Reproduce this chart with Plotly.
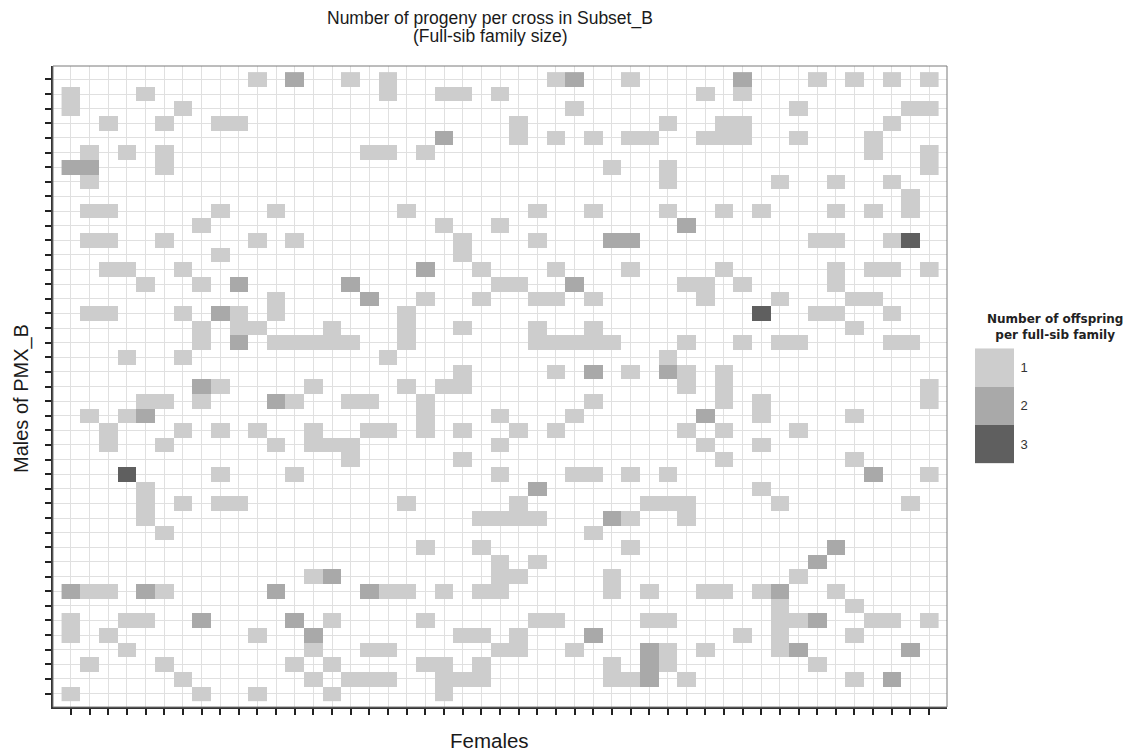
import numpy as np
import plotly.graph_objects as go

n_males = 43     # rows: males of PMX_B
n_females = 47   # columns: females

# Female indices crossed with each male that produced exactly one offspring
single_by_male = [
    [10, 15, 17, 26, 30, 40, 42, 44, 46],
    [0, 4, 17, 20, 21, 23, 34, 36],
    [0, 6, 27, 39, 45, 46],
    [2, 5, 8, 9, 24, 32, 35, 36, 44],
    [24, 26, 28, 30, 31, 34, 35, 36, 39, 43],
    [1, 3, 5, 16, 17, 19, 43, 46],
    [5, 29, 32, 46],
    [1, 32, 38, 41, 44],
    [45],
    [1, 2, 8, 11, 18, 25, 28, 32, 35, 37, 41, 43, 45],
    [7, 20, 23],
    [1, 2, 5, 10, 12, 21, 25, 40, 41, 44],
    [8, 21],
    [2, 3, 6, 22, 26, 30, 35, 41, 43, 44, 46],
    [4, 7, 23, 24, 33, 34, 36, 41],
    [11, 19, 22, 25, 26, 28, 34, 38, 42, 43],
    [1, 2, 6, 9, 11, 18, 40, 41, 44],
    [7, 9, 10, 14, 18, 21, 25, 28, 42],
    [7, 11, 12, 13, 14, 15, 18, 25, 26, 27, 28, 29, 33, 36, 38, 39, 44, 45],
    [3, 6, 17, 32],
    [21, 26, 30, 33, 35],
    [8, 13, 18, 20, 21, 33, 35, 46],
    [4, 5, 7, 12, 15, 16, 19, 28, 35, 37, 46],
    [1, 3, 19, 23, 27, 37, 42],
    [2, 6, 8, 10, 13, 16, 17, 19, 21, 24, 26, 33, 35, 39],
    [2, 5, 11, 13, 14, 15, 23, 34, 37],
    [15, 21, 35, 42],
    [8, 12, 23, 27, 28, 30, 32, 46],
    [4, 37],
    [4, 6, 8, 9, 18, 24, 31, 32, 33, 38, 45],
    [4, 22, 23, 24, 25, 30, 33],
    [5, 28],
    [19, 22, 30],
    [23, 25],
    [13, 23, 24, 29, 39],
    [1, 2, 5, 17, 18, 20, 22, 23, 29, 31, 34, 35, 37, 41],
    [38, 42],
    [0, 3, 4, 14, 19, 25, 26, 31, 32, 38, 39, 43, 44, 46],
    [0, 2, 10, 21, 22, 24, 36, 38, 42],
    [3, 13, 16, 17, 23, 24, 27, 32, 34, 38],
    [1, 5, 12, 14, 19, 20, 22, 29, 32, 40],
    [6, 13, 15, 16, 17, 20, 21, 22, 29, 30, 33, 42],
    [0, 7, 10, 14, 20],
]

# (male, female) crosses with two offspring
double_crosses = [
    (0, 12), (0, 27), (0, 36), (4, 20), (6, 0), (6, 1), (10, 33),
    (11, 29), (11, 30), (13, 19), (14, 9), (14, 15), (14, 27), (15, 16),
    (16, 8), (18, 9), (20, 28), (20, 32), (21, 7), (22, 11), (23, 4),
    (23, 34), (27, 43), (28, 25), (30, 29), (32, 41), (33, 40), (34, 14),
    (35, 0), (35, 4), (35, 11), (35, 16), (35, 38), (37, 7), (37, 12),
    (37, 40), (38, 13), (38, 28), (39, 31), (39, 39), (39, 45), (40, 31),
    (41, 31), (41, 44),
]

# (male, female) crosses with three offspring
triple_crosses = [(11, 45), (16, 37), (27, 3)]

offspring_levels = [1, 2, 3]
level_colors = ["#cdcdcd", "#a9a9a9", "#5f5f5f"]

# Build the male x female matrix of family sizes (NaN = no progeny)
z = np.full((n_males, n_females), np.nan)
for m, females in enumerate(single_by_male):
    for f in females:
        z[m, f] = 1
for m, f in double_crosses:
    z[m, f] = 2
for m, f in triple_crosses:
    z[m, f] = 3

# Stepped grey scale: one flat colour per family size
colorscale = []
for i, c in enumerate(level_colors):
    colorscale.append([i / 3, c])
    colorscale.append([(i + 1) / 3, c])

fig = go.Figure()

fig.add_trace(go.Heatmap(
    z=z,
    x=list(range(n_females)),
    y=list(range(n_males)),
    zmin=0.5, zmax=3.5,
    colorscale=colorscale,
    showscale=False,
    hoverongaps=False,
    xaxis="x", yaxis="y",
))

# Key: one swatch per family size, drawn with the same colour mapping
fig.add_trace(go.Heatmap(
    z=[[v] for v in offspring_levels],
    x=[0],
    y=offspring_levels,
    zmin=0.5, zmax=3.5,
    colorscale=colorscale,
    showscale=False,
    xaxis="x2", yaxis="y2",
    hoverinfo="skip",
))

W, H = 1144, 754
ml, mr, mt, mb = 53, 5, 66, 47
pw = W - ml - mr
ph = H - mt - mb
panel_w = 894


def px_x(x):
    return (x - ml) / pw


def px_y(y):
    return (H - mb - y) / ph


main_dom = [0, panel_w / pw]

axis_common = dict(
    showticklabels=False,
    ticks="outside",
    ticklen=6,
    tickwidth=2,
    tickcolor="#222222",
    showgrid=True,
    gridcolor="#e0e0e0",
    gridwidth=1,
    zeroline=False,
    showline=True,
    linecolor="#333333",
    linewidth=1.5,
)

fig.update_layout(
    width=W, height=H,
    margin=dict(l=ml, r=mr, t=mt, b=mb),
    paper_bgcolor="white",
    plot_bgcolor="white",
    font=dict(family="Liberation Sans, Arial, sans-serif", color="#222222"),
    xaxis=dict(
        domain=main_dom,
        range=[-0.96, n_females - 1 + 0.96],
        tickmode="array",
        tickvals=list(range(n_females)),
        **axis_common,
    ),
    yaxis=dict(
        range=[n_males - 1 + 0.92, -0.92],
        tickmode="array",
        tickvals=list(range(n_males)),
        **axis_common,
    ),
    xaxis2=dict(
        domain=[px_x(975), px_x(1014)],
        anchor="y2",
        visible=False,
        range=[-0.5, 0.5],
    ),
    yaxis2=dict(
        domain=[px_y(463.5), px_y(348.3)],
        anchor="x2",
        side="right",
        range=[3.5, 0.5],
        tickmode="array",
        tickvals=offspring_levels,
        ticktext=[str(v) for v in offspring_levels],
        ticks="outside",
        ticklen=3,
        tickcolor="rgba(0,0,0,0)",
        tickfont=dict(size=13, color="#333333"),
        showgrid=False,
        zeroline=False,
        showline=False,
    ),
    showlegend=False,
)

# Panel border
fig.add_shape(
    type="rect", xref="paper", yref="paper",
    x0=main_dom[0], x1=main_dom[1], y0=0, y1=1,
    line=dict(color="#7a7a7a", width=1),
    fillcolor="rgba(0,0,0,0)",
    layer="above",
)

annotations = [
    dict(text="Number of progeny per cross in Subset_B",
         x=px_x(490), y=px_y(18), font=dict(size=17.5, color="#1a1a1a")),
    dict(text="(Full-sib family size)",
         x=px_x(490), y=px_y(36), font=dict(size=17.5, color="#1a1a1a")),
    dict(text="Females",
         x=px_x(489), y=px_y(740), font=dict(size=20.5, color="#1a1a1a")),
    dict(text="Males of PMX_B", textangle=-90,
         x=px_x(21), y=px_y(399), font=dict(size=20, color="#1a1a1a")),
    dict(text="<b>Number of offspring<br>per full-sib family</b>",
         x=px_x(1055), y=px_y(327), align="center",
         font=dict(family="DejaVu Sans, sans-serif", size=12, color="#222222")),
]
for a in annotations:
    fig.add_annotation(xref="paper", yref="paper", showarrow=False,
                       xanchor="center", yanchor="middle", **a)

fig.write_html("out.html")
